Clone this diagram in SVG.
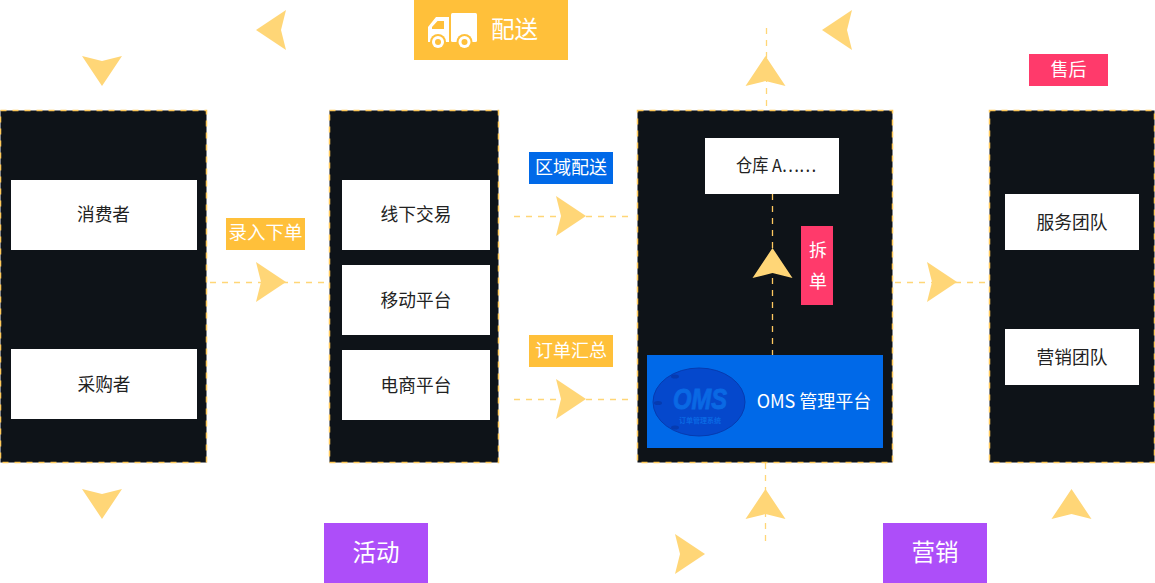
<svg xmlns="http://www.w3.org/2000/svg" xmlns:xlink="http://www.w3.org/1999/xlink" width="1155" height="583" viewBox="0 0 1155 583">
<style>
text{font-family:"Noto Sans CJK SC","Noto Sans",sans-serif;text-anchor:middle;}
.panel{fill:#0e1318;stroke:#ffc95a;stroke-width:1.500;stroke-dasharray:6 6;}
.card{fill:#fff;}
.ct{font-size:17.700px;fill:#222;}
.lb{font-size:18px;fill:#fff;}
.big{font-size:23.500px;fill:#fff;}
.dash{fill:none;stroke:#ffd677;stroke-width:1.300;stroke-dasharray:6 6;}
.dash2{fill:none;stroke:#ffc860;stroke-width:1.300;stroke-dasharray:6 6;}
.ar{fill:#ffd677;}
</style>
<defs>
<path id="a" d="M0 0L-30-20L-25 0L-30 20Z"/>
</defs>
<rect width="1155" height="583" fill="#fff"/>
<g id="connectors">
<path class="dash" d="M210 282.500H326M514 216.500H628M514 399.500H628M895 282.500H986M766.500 28V110M765.500 463V545"/>
</g>
<g id="panel-customers">
<rect class="panel" x="0.500" y="110.500" width="206" height="352"/>
<rect class="card" x="11" y="180" width="186" height="70"/><text class="ct" x="103.500" y="220.500">消费者</text>
<rect class="card" x="11" y="349" width="186" height="70"/><text class="ct" x="104" y="390.500">采购者</text>
</g>
<g id="panel-channels">
<rect class="panel" x="329.500" y="110.500" width="169" height="352"/>
<rect class="card" x="342" y="180" width="148" height="70"/><text class="ct" x="416" y="220.500">线下交易</text>
<rect class="card" x="342" y="265" width="148" height="70"/><text class="ct" x="416" y="306.500">移动平台</text>
<rect class="card" x="342" y="350" width="148" height="70"/><text class="ct" x="416" y="391.500">电商平台</text>
</g>
<g id="panel-oms">
<rect class="panel" x="637.500" y="110.500" width="255" height="352"/>
<path class="dash2" d="M772.500 194V355"/>
<g id="warehouse"><rect class="card" x="705" y="138" width="134" height="56"/><text class="ct" x="776" y="172" textLength="80" lengthAdjust="spacingAndGlyphs">仓库 A……</text></g>
<g id="oms"><rect x="647" y="355" width="236" height="93" fill="#0069e8"/>
<ellipse cx="699" cy="402" rx="46" ry="34" fill="#0548cc" stroke="#063bb0" stroke-width="1"/>
<g fill="#063bb0"><ellipse cx="675" cy="376.500" rx="4" ry="2"/><ellipse cx="658" cy="403" rx="4" ry="2"/><ellipse cx="675" cy="427.500" rx="4" ry="2"/></g>
<text x="700" y="408.500" font-size="30" font-weight="700" font-style="italic" fill="#0a69e4" stroke="#0a69e4" stroke-width="0.900" style="font-family:'Liberation Sans',sans-serif" textLength="54" lengthAdjust="spacingAndGlyphs">OMS</text>
<text x="700" y="423" font-size="7" font-weight="700" fill="#0a69e4">订单管理系统</text>
<text x="814" y="408" font-size="18" fill="#fff">OMS 管理平台</text></g>
</g>
<g id="panel-teams">
<rect class="panel" x="989.500" y="110.500" width="165" height="352"/>
<rect class="card" x="1005" y="194" width="134" height="56"/><text class="ct" x="1072" y="228.500">服务团队</text>
<rect class="card" x="1005" y="329" width="134" height="56"/><text class="ct" x="1072" y="363.500">营销团队</text>
</g>
<g id="arrows" class="ar">
<use xlink:href="#a" href="#a" transform="translate(286 282)"/>
<use href="#a" transform="translate(586 216)"/>
<use href="#a" transform="translate(586 399)"/>
<use href="#a" transform="translate(957 282)"/>
<use href="#a" transform="translate(705 554)"/>
<use href="#a" transform="translate(256 30) rotate(180)"/>
<use href="#a" transform="translate(822 30) rotate(180)"/>
<use href="#a" transform="translate(102 86) rotate(90)"/>
<use href="#a" transform="translate(102 519) rotate(90)"/>
<use href="#a" transform="translate(765.500 56) rotate(-90)"/>
<use href="#a" transform="translate(772.500 248) rotate(-90)"/>
<use href="#a" transform="translate(765.500 489) rotate(-90)"/>
<use href="#a" transform="translate(1071.500 489) rotate(-90)"/>
</g>
<g id="tag-delivery"><rect x="414" y="0" width="154" height="60" fill="#ffc03a"/>
<g fill="#fff"><rect x="451" y="13" width="26" height="29" rx="1.500"/>
<path d="M436 17H449V42H428V27ZM437.500 21L432 27V29H444V21Z" fill-rule="evenodd"/></g>
<g fill="#ffc03a"><circle cx="438" cy="42" r="8"/><circle cx="464.500" cy="42" r="8"/></g>
<g fill="#fff"><circle cx="438" cy="42" r="6"/><circle cx="464.500" cy="42" r="6"/></g>
<g fill="#ffc03a"><circle cx="438" cy="42" r="3"/><circle cx="464.500" cy="42" r="3"/></g>
<text class="big" x="514.500" y="38">配送</text></g>
<g id="tag-input"><rect x="226" y="218" width="79" height="32" fill="#ffc03a"/><text class="lb" x="265.500" y="239" style="font-size:18.500px">录入下单</text></g>
<g id="tag-region"><rect x="529" y="152" width="84" height="32" fill="#0069e8"/><text class="lb" x="571" y="174">区域配送</text></g>
<g id="tag-collect"><rect x="529" y="335" width="84" height="32" fill="#ffc03a"/><text class="lb" x="571" y="357">订单汇总</text></g>
<g id="tag-split"><rect x="801" y="226" width="32" height="79" fill="#ff3a6b"/><text class="lb" x="818" y="257">拆</text><text class="lb" x="818" y="288">单</text></g>
<g id="tag-aftersale"><rect x="1029" y="54" width="79" height="32" fill="#ff3a6b"/><text class="lb" x="1068.500" y="76">售后</text></g>
<g id="tag-activity"><rect x="324" y="523" width="104" height="60" fill="#ad4ef9"/><text class="big" x="376" y="561">活动</text></g>
<g id="tag-marketing"><rect x="883" y="523" width="104" height="60" fill="#ad4ef9"/><text class="big" x="935" y="561">营销</text></g>
</svg>
